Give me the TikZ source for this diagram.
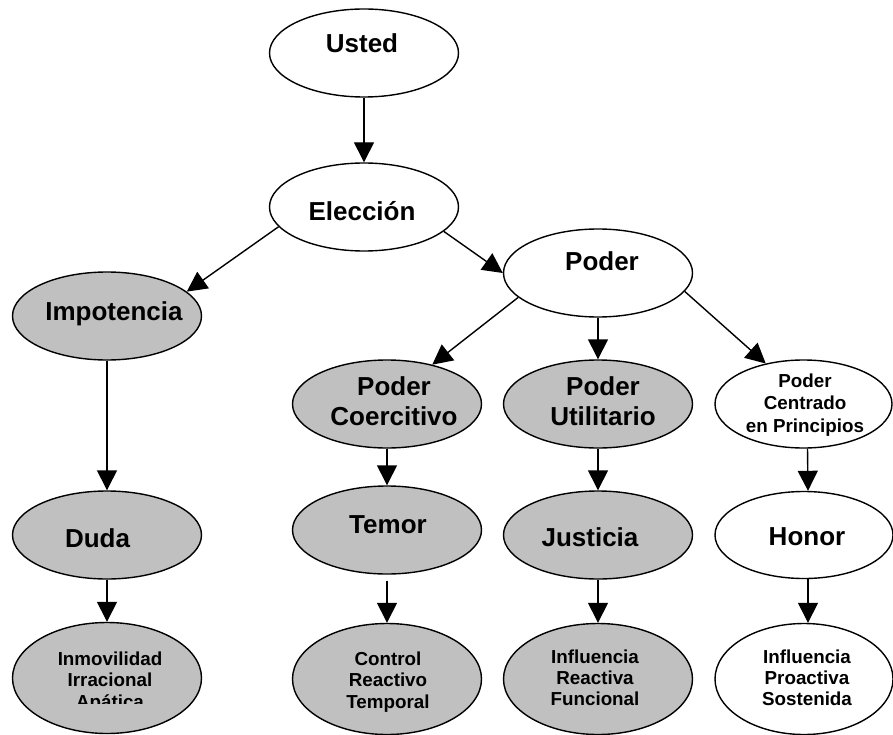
\documentclass[tikz,border=0pt]{standalone}
\usepackage{fontspec}
\setmainfont{Liberation Sans}
\usetikzlibrary{shapes.geometric,arrows.meta}
\definecolor{shade}{HTML}{C0C0C0}
\begin{document}
\begin{tikzpicture}[x=1pt,y=-1pt,
  ell/.style={ellipse, draw, line width=1.4pt, inner sep=0pt},
  greyell/.style={ell, fill=shade},
  whiteell/.style={ell, fill=white},
  wide/.style={minimum width=189pt, minimum height=88pt},
  tall/.style={minimum width=189pt, minimum height=111pt},
  big/.style={anchor=north, inner sep=0pt, align=center,
    font=\fontsize{26}{30}\selectfont\bfseries},
  small/.style={anchor=north, inner sep=0pt, align=center,
    font=\fontsize{18.8}{21.5}\selectfont\bfseries},
  arr/.style={-{Triangle[length=20pt,width=20pt]}, line width=1.4pt}]
\useasboundingbox (0,0) rectangle (893,735);

% ellipses
\node[whiteell, wide] (usted) at (364,53) {};
\node[whiteell, wide] (elec) at (364,207) {};
\node[whiteell, wide] (poder) at (598,273) {};
\node[greyell, wide] (imp) at (107,316) {};
\node[greyell, wide] (duda) at (107,535) {};
\node[greyell, tall] (inm) at (107,678) {};
\node[greyell, wide] (coer) at (387,404) {};
\node[greyell, wide] (temor) at (387,530) {};
\node[greyell, tall] (ctrl) at (387,679) {};
\node[greyell, wide] (util) at (598,404) {};
\node[greyell, wide] (just) at (598,535) {};
\node[greyell, tall] (infr) at (598,679) {};
\node[whiteell, minimum width=177pt, minimum height=88pt] (cent) at (803.5,404) {};
\node[whiteell, minimum width=178pt, minimum height=87pt] (honor) at (804,535) {};
\node[whiteell, minimum width=178pt, minimum height=111pt] (infp) at (804,679) {};

% labels
\node[big] (t-usted) at (362,33.7) {Usted};
\node[big] (t-elec) at (362,201.7) {Elección};
\node[big] (t-poder) at (602,251.7) {Poder};
\node[big] (t-imp) at (114,301.7) {Impotencia};
\node[big] (t-duda) at (97.5,528.7) {Duda};
\node[big] (t-coer) at (394,376.7) {Poder\\Coercitivo};
\node[big] (t-temor) at (388,515.7) {Temor};
\node[big] (t-util) at (603,376.7) {Poder\\Utilitario};
\node[big] (t-just) at (590,527.7) {Justicia};
\node[big] (t-honor) at (807,527.7) {Honor};
\node[small, font=\fontsize{18.8}{22.5}\selectfont\bfseries] (t-cent) at (805,373.3)
  {Poder\\Centrado\\en Principios};
\begin{scope}
  \clip (0,640) rectangle (300,703);
  \node[small] (t-inm) at (110,651.3) {Inmovilidad\\Irracional\\Apática};
\end{scope}
\node[small] (t-ctrl) at (388,651.3) {Control\\Reactivo\\Temporal};
\node[small, font=\fontsize{18.8}{21}\selectfont\bfseries] (t-infr) at (595,649.3)
  {Influencia\\Reactiva\\Funcional};
\node[small, font=\fontsize{18.8}{21}\selectfont\bfseries] (t-infp) at (807,649.3)
  {Influencia\\Proactiva\\Sostenida};

% connectors
\draw[arr] (usted.south) -- (elec.north);
\draw[arr] (elec.193) -- (imp.17);
\draw[arr] (elec.-17) -- (poder.west);
\draw[arr] (poder.197) -- (coer.41);
\draw[arr] (poder.south) -- (util.north);
\draw[arr] (poder.-12.6) -- (cent.133);
\draw[arr] (imp.south) -- (duda.north);
\draw[arr] (duda.south) -- (inm.north);
\draw[arr] (coer.south) -- (temor.north);
\draw[arr, shorten <=6pt] (temor.south) -- (ctrl.north);
\draw[arr] (util.south) -- (just.north);
\draw[arr] (just.south) -- (infr.north);
\draw[arr] ([xshift=4pt]cent.south) -- ([xshift=4pt]honor.north);
\draw[arr] ([xshift=4pt]honor.south) -- ([xshift=4pt]infp.north);
\end{tikzpicture}
\end{document}
